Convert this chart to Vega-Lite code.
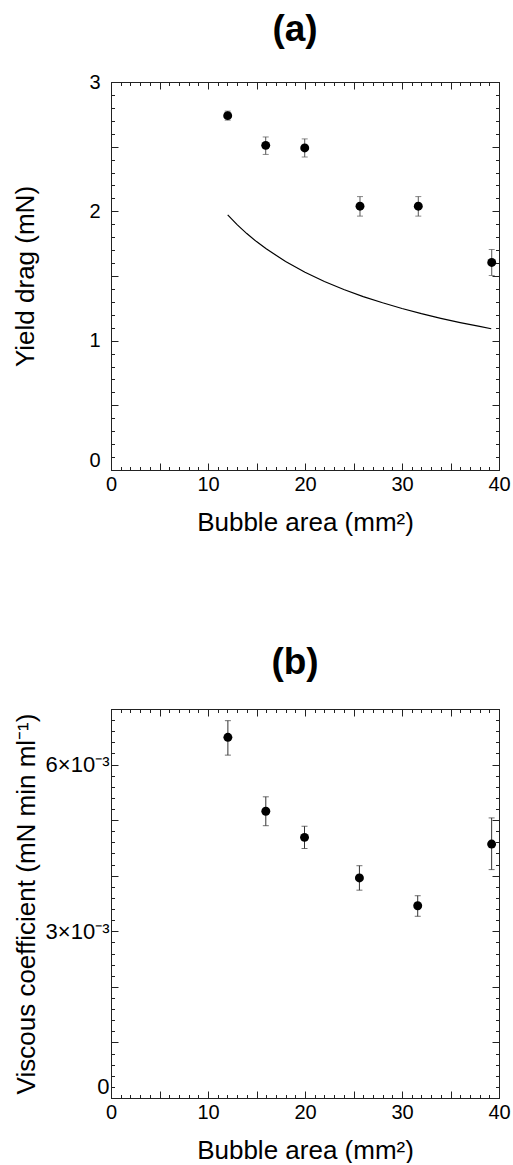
{
  "$schema": "https://vega.github.io/schema/vega-lite/v6.json",
  "background": "white",
  "padding": {"left": 12, "top": 11, "right": 0, "bottom": 0},
  "spacing": 109,
  "config": {
    "font": "Liberation Sans",
    "view": {"stroke": null},
    "axis": {"grid": false, "domainColor": "#222", "domainWidth": 1, "tickColor": "#222", "tickWidth": 1, "labelFont": "Liberation Sans", "labelFontSize": 20, "labelColor": "#000", "titleFont": "Liberation Sans", "titleFontSize": 26, "titleFontWeight": "normal", "titleColor": "#000", "labelFlush": false, "labelOverlap": false},
    "title": {"font": "Liberation Sans", "fontSize": 37, "fontWeight": "bold", "color": "#000"}
  },
  "datasets": {
    "a_pts": [
      {"area": 12.03, "drag": 2.74, "lo": 2.705, "hi": 2.775},
      {"area": 15.95, "drag": 2.51, "lo": 2.44, "hi": 2.575},
      {"area": 19.97, "drag": 2.49, "lo": 2.42, "hi": 2.56},
      {"area": 25.67, "drag": 2.04, "lo": 1.963, "hi": 2.114},
      {"area": 31.68, "drag": 2.04, "lo": 1.963, "hi": 2.114},
      {"area": 39.25, "drag": 1.605, "lo": 1.504, "hi": 1.705}
    ],
    "a_curve": [
      {"area": 12.03, "drag": 1.972},
      {"area": 13, "drag": 1.897},
      {"area": 14, "drag": 1.828},
      {"area": 15, "drag": 1.766},
      {"area": 16, "drag": 1.71},
      {"area": 18, "drag": 1.612},
      {"area": 20, "drag": 1.529},
      {"area": 22, "drag": 1.458},
      {"area": 24, "drag": 1.396},
      {"area": 26, "drag": 1.341},
      {"area": 28, "drag": 1.293},
      {"area": 30, "drag": 1.249},
      {"area": 32, "drag": 1.209},
      {"area": 34, "drag": 1.173},
      {"area": 36, "drag": 1.14},
      {"area": 38, "drag": 1.11},
      {"area": 39.2, "drag": 1.092}
    ],
    "b_pts": [
      {"area": 12.05, "visc": 0.00649, "lo": 0.00617, "hi": 0.00679},
      {"area": 15.96, "visc": 0.00516, "lo": 0.0049, "hi": 0.00542},
      {"area": 19.95, "visc": 0.00469, "lo": 0.00449, "hi": 0.00489},
      {"area": 25.61, "visc": 0.00396, "lo": 0.00374, "hi": 0.00418},
      {"area": 31.62, "visc": 0.00346, "lo": 0.00327, "hi": 0.00364},
      {"area": 39.24, "visc": 0.00457, "lo": 0.00411, "hi": 0.00504}
    ]
  },
  "vconcat": [
    {
      "title": {"text": "(a)", "anchor": "middle", "dx": -10, "offset": 23},
      "width": 388,
      "height": 388,
      "resolve": {"axis": {"x": "independent", "y": "independent"}},
      "layer": [
        {
          "data": {"name": "a_curve"},
          "mark": {"type": "line", "color": "#000", "strokeWidth": 1.2},
          "encoding": {
            "x": {"field": "area", "type": "quantitative", "scale": {"domain": [0, 40], "nice": false},
              "axis": {"orient": "bottom", "values": [1,2,3,4,6,7,8,9,11,12,13,14,16,17,18,19,21,22,23,24,26,27,28,29,31,32,33,34,36,37,38,39], "tickSize": -3.5, "labels": false, "title": null}},
            "y": {"field": "drag", "type": "quantitative", "scale": {"domain": [0, 3], "nice": false},
              "axis": {"orient": "left", "values": [0.1,0.2,0.3,0.4,0.6,0.7,0.8,0.9,1.1,1.2,1.3,1.4,1.6,1.7,1.8,1.9,2.1,2.2,2.3,2.4,2.6,2.7,2.8,2.9], "tickSize": -3.5, "labels": false, "title": null}}
          }
        },
        {
          "data": {"name": "a_pts"},
          "mark": {"type": "rule", "color": "#555", "strokeWidth": 1},
          "encoding": {
            "x": {"field": "area", "type": "quantitative", "scale": {"domain": [0, 40], "nice": false},
              "axis": {"orient": "top", "values": [0,5,10,15,20,25,30,35,40], "tickSize": -7, "labels": false, "title": null}},
            "y": {"field": "lo", "type": "quantitative", "scale": {"domain": [0, 3], "nice": false},
              "axis": {"orient": "right", "values": [0,0.5,1,1.5,2,2.5,3], "tickSize": -7, "labels": false, "title": null}},
            "y2": {"field": "hi"}
          }
        },
        {
          "data": {"name": "a_pts"},
          "mark": {"type": "tick", "orient": "horizontal", "size": 6, "thickness": 1, "color": "#555"},
          "encoding": {
            "x": {"field": "area", "type": "quantitative", "scale": {"domain": [0, 40], "nice": false},
              "axis": {"orient": "top", "values": [1,2,3,4,6,7,8,9,11,12,13,14,16,17,18,19,21,22,23,24,26,27,28,29,31,32,33,34,36,37,38,39], "tickSize": -3.5, "labels": false, "title": null}},
            "y": {"field": "lo", "type": "quantitative", "scale": {"domain": [0, 3], "nice": false},
              "axis": {"orient": "right", "values": [0.1,0.2,0.3,0.4,0.6,0.7,0.8,0.9,1.1,1.2,1.3,1.4,1.6,1.7,1.8,1.9,2.1,2.2,2.3,2.4,2.6,2.7,2.8,2.9], "tickSize": -3.5, "labels": false, "title": null}}
          }
        },
        {
          "data": {"name": "a_pts"},
          "mark": {"type": "tick", "orient": "horizontal", "size": 6, "thickness": 1, "color": "#555"},
          "encoding": {
            "x": {"field": "area", "type": "quantitative", "scale": {"domain": [0, 40], "nice": false}, "axis": null},
            "y": {"field": "hi", "type": "quantitative", "scale": {"domain": [0, 3], "nice": false}, "axis": null}
          }
        },
        {
          "data": {"name": "a_pts"},
          "mark": {"type": "point", "filled": true, "shape": "circle", "size": 80, "color": "#000", "opacity": 1},
          "encoding": {
            "x": {"field": "area", "type": "quantitative", "scale": {"domain": [0, 40], "nice": false},
              "axis": {"orient": "bottom", "values": [0,5,10,15,20,25,30,35,40], "tickSize": -7, "labelPadding": 11,
                "labelExpr": "datum.value % 10 === 0 ? format(datum.value, 'd') : ''",
                "title": "Bubble area (mm²)", "titlePadding": 15}},
            "y": {"field": "drag", "type": "quantitative", "scale": {"domain": [0, 3], "nice": false},
              "axis": {"orient": "left", "values": [0,0.5,1,1.5,2,2.5,3], "tickSize": -7, "labelPadding": 18,
                "labelExpr": "datum.value % 1 === 0 ? format(datum.value, 'd') : ''",
                "labelBaseline": {"condition": {"test": "datum.value === 0", "value": "bottom"}, "value": "middle"},
                "title": "Yield drag (mN)", "titlePadding": 50}}
          }
        }
      ]
    },
    {
      "title": {"text": "(b)", "anchor": "middle", "dx": -10, "offset": 16},
      "width": 388,
      "height": 389,
      "resolve": {"axis": {"x": "independent", "y": "independent"}},
      "layer": [
        {
          "data": {"name": "b_pts"},
          "mark": {"type": "rule", "color": "#333", "strokeWidth": 1},
          "encoding": {
            "x": {"field": "area", "type": "quantitative", "scale": {"domain": [0, 40], "nice": false},
              "axis": {"orient": "top", "values": [0,5,10,15,20,25,30,35,40], "tickSize": -7, "labels": false, "title": null}},
            "y": {"field": "lo", "type": "quantitative", "scale": {"domain": [0, 0.007], "nice": false},
              "axis": {"orient": "right", "values": [0,0.001,0.002,0.003,0.004,0.005,0.006,0.007], "tickSize": -7, "labels": false, "title": null}},
            "y2": {"field": "hi"}
          }
        },
        {
          "data": {"name": "b_pts"},
          "mark": {"type": "tick", "orient": "horizontal", "size": 6, "thickness": 1, "color": "#333"},
          "encoding": {
            "x": {"field": "area", "type": "quantitative", "scale": {"domain": [0, 40], "nice": false},
              "axis": {"orient": "top", "values": [1,2,3,4,6,7,8,9,11,12,13,14,16,17,18,19,21,22,23,24,26,27,28,29,31,32,33,34,36,37,38,39], "tickSize": -3.5, "labels": false, "title": null}},
            "y": {"field": "lo", "type": "quantitative", "scale": {"domain": [0, 0.007], "nice": false},
              "axis": {"orient": "right", "values": [0.0002,0.0004,0.0006,0.0008,0.0012,0.0014,0.0016,0.0018,0.0022,0.0024,0.0026,0.0028,0.0032,0.0034,0.0036,0.0038,0.0042,0.0044,0.0046,0.0048,0.0052,0.0054,0.0056,0.0058,0.0062,0.0064,0.0066,0.0068], "tickSize": -3.5, "labels": false, "title": null}}
          }
        },
        {
          "data": {"name": "b_pts"},
          "mark": {"type": "tick", "orient": "horizontal", "size": 6, "thickness": 1, "color": "#333"},
          "encoding": {
            "x": {"field": "area", "type": "quantitative", "scale": {"domain": [0, 40], "nice": false},
              "axis": {"orient": "bottom", "values": [1,2,3,4,6,7,8,9,11,12,13,14,16,17,18,19,21,22,23,24,26,27,28,29,31,32,33,34,36,37,38,39], "tickSize": -3.5, "labels": false, "title": null}},
            "y": {"field": "hi", "type": "quantitative", "scale": {"domain": [0, 0.007], "nice": false},
              "axis": {"orient": "left", "values": [0.0002,0.0004,0.0006,0.0008,0.0012,0.0014,0.0016,0.0018,0.0022,0.0024,0.0026,0.0028,0.0032,0.0034,0.0036,0.0038,0.0042,0.0044,0.0046,0.0048,0.0052,0.0054,0.0056,0.0058,0.0062,0.0064,0.0066,0.0068], "tickSize": -3.5, "labels": false, "title": null}}
          }
        },
        {
          "data": {"name": "b_pts"},
          "mark": {"type": "point", "filled": true, "shape": "circle", "size": 80, "color": "#000", "opacity": 1},
          "encoding": {
            "x": {"field": "area", "type": "quantitative", "scale": {"domain": [0, 40], "nice": false},
              "axis": {"orient": "bottom", "values": [0,5,10,15,20,25,30,35,40], "tickSize": -7, "labelPadding": 11,
                "labelExpr": "datum.value % 10 === 0 ? format(datum.value, 'd') : ''",
                "title": "Bubble area (mm²)", "titlePadding": 15}},
            "y": {"field": "visc", "type": "quantitative", "scale": {"domain": [0, 0.007], "nice": false},
              "axis": {"orient": "left", "values": [0,0.001,0.002,0.003,0.004,0.005,0.006,0.007], "tickSize": -7, "labelPadding": 9,
                "labelFontSize": 22,
                "labelExpr": "round(datum.value * 1000) % 3 === 0 ? (round(datum.value * 1000) === 0 ? '0' : round(datum.value * 1000) + '×10⁻³') : ''",
                "labelBaseline": {"condition": {"test": "datum.value === 0", "value": "bottom"}, "value": "middle"},
                "title": "Viscous coefficient (mN min ml⁻¹)", "titlePadding": 6}}
          }
        }
      ]
    }
  ]
}
